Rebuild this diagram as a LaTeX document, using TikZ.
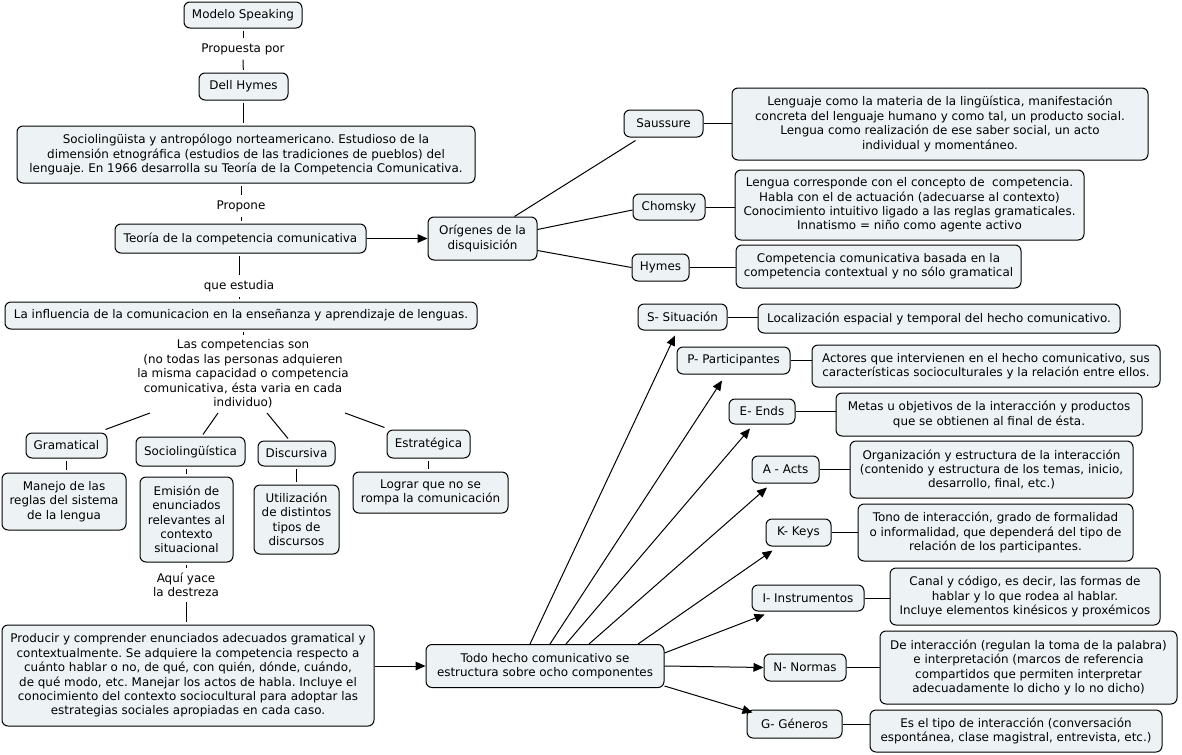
\documentclass[tikz,border=0pt]{standalone}
\usepackage{fontspec}
\setmainfont{DejaVu Sans}
\usetikzlibrary{arrows.meta,calc}
\definecolor{boxfill}{RGB}{237,243,245}
\frenchspacing
\begin{document}
\begin{tikzpicture}[x=0.75pt,y=-0.75pt,
  every node/.style={font=\fontsize{8.95}{10.8}\selectfont},
  box/.style={draw=black,line width=0.75pt,fill=boxfill,rounded corners=4.5pt,align=center,inner sep=0pt},
  wh/.style 2 args={minimum width=#1*0.75pt,minimum height=#2*0.75pt},
  lbl/.style={align=center,inner sep=1.5pt,fill=white},
  conn/.style={line width=0.75pt,draw=black},
  gap/.style={conn,shorten <=2pt,shorten >=2pt},
  arr/.style={conn,-{Triangle[length=7.5pt,width=6.5pt]}}]
\useasboundingbox[fill=white] (0,0) rectangle (1182,754);

% left column
\node[box,wh={118}{26}] (ms) at (243,15) {Modelo Speaking};
\node[lbl] (pp) at (243,49) {Propuesta por};
\node[box,wh={89}{27}] (dh) at (243.5,86.5) {Dell Hymes};
\node[box,wh={458}{57}] (soc) at (246,154.5) {Sociolingüista y antropólogo norteamericano. Estudioso de la\\dimensión etnográfica (estudios de las tradiciones de pueblos) del\\lenguaje. En 1966 desarrolla su Teoría de la Competencia Comunicativa.};
\node[lbl] (prop) at (241,206) {Propone};
\node[box,wh={251}{29}] (teo) at (240.5,238.5) {Teoría de la competencia comunicativa};
\node[box,wh={109}{43}] (ori) at (482.5,238.5) {Orígenes de la\\disquisición};
\node[lbl] (qe) at (239,286) {que estudia};
\node[box,wh={472}{27}] (inf) at (241,315.5) {La influencia de la comunicacion en la enseñanza y aprendizaje de lenguas.};
\node[lbl] (comp) at (243,374) {Las competencias son\\(no todas las personas adquieren\\la misma capacidad o competencia\\comunicativa, ésta varia en cada\\individuo)};

\node[box,wh={81}{25}] (gram) at (66.5,445.5) {Gramatical};
\node[box,wh={124}{57}] (man) at (64,501.5) {Manejo de las\\reglas del sistema\\de la lengua};
\node[box,wh={109}{29}] (sl) at (190.5,451.5) {Sociolingüística};
\node[box,wh={93}{85}] (emi) at (186.5,519.5) {Emisión de\\enunciados\\relevantes al\\contexto\\situacional};
\node[lbl] (aq) at (186,585) {Aquí yace\\la destreza};
\node[box,wh={77}{25}] (dis) at (296.5,453.5) {Discursiva};
\node[box,wh={85}{69}] (uti) at (296.5,519.5) {Utilización\\de distintos\\tipos de\\discursos};
\node[box,wh={83}{28}] (est) at (428.5,444) {Estratégica};
\node[box,wh={155}{41}] (log) at (430.5,492.5) {Lograr que no se\\rompa la comunicación};
\node[box,wh={372}{101}] (pro) at (188,675.5) {Producir y comprender enunciados adecuados gramatical y\\contextualmente. Se adquiere la competencia respecto a\\cuánto hablar o no, de qué, con quién, dónde, cuándo,\\de qué modo, etc. Manejar los actos de habla. Incluye el\\conocimiento del contexto sociocultural para adoptar las\\estrategias sociales apropiadas en cada caso.};
\node[box,wh={238}{43}] (todo) at (545,666) {Todo hecho comunicativo se\\estructura sobre ocho componentes};

% origins
\node[box,wh={79}{27}] (sau) at (663.5,123.5) {Saussure};
\node[box,wh={416}{72}] (saud) at (940,124) {Lenguaje como la materia de la lingüística, manifestación\\concreta del lenguaje humano y como tal, un producto social.\\Lengua como realización de ese saber social, un acto\\individual y momentáneo.};
\node[box,wh={72}{26}] (cho) at (669,207) {Chomsky};
\node[box,wh={349}{70}] (chod) at (909.5,205) {Lengua corresponde con el concepto de\ \ competencia.\\Habla con el de actuación (adecuarse al contexto)\\Conocimiento intuitivo ligado a las reglas gramaticales.\\Innatismo = niño como agente activo};
\node[box,wh={57}{27}] (hym) at (660.5,267.5) {Hymes};
\node[box,wh={285}{43}] (hymd) at (878.5,266.5) {Competencia comunicativa basada en la\\competencia contextual y no sólo gramatical};

% components
\node[box,wh={89}{26}] (S) at (682.5,317) {S- Situación};
\node[box,wh={362}{29}] (Sd) at (939,318.5) {Localización espacial y temporal del hecho comunicativo.};
\node[box,wh={113}{27}] (P) at (733.5,360.5) {P- Participantes};
\node[box,wh={348}{42}] (Pd) at (986,366) {Actores que intervienen en el hecho comunicativo, sus\\características socioculturales y la relación entre ellos.};
\node[box,wh={66}{25}] (E) at (762,411.5) {E- Ends};
\node[box,wh={306}{43}] (Ed) at (989,414.5) {Metas u objetivos de la interacción y productos\\que se obtienen al final de ésta.};
\node[box,wh={67}{27}] (A) at (785.5,469.5) {A - Acts};
\node[box,wh={283}{57}] (Ad) at (991.5,469.5) {Organización y estructura de la interacción\\(contenido y estructura de los temas, inicio,\\desarrollo, final, etc.)};
\node[box,wh={65}{27}] (K) at (798.5,532.5) {K- Keys};
\node[box,wh={275}{57}] (Kd) at (995.5,532.5) {Tono de interacción, grado de formalidad\\o informalidad, que dependerá del tipo de\\relación de los participantes.};
\node[box,wh={112}{26}] (I) at (808,598) {I- Instrumentos};
\node[box,wh={270}{57}] (Id) at (1025,596.5) {Canal y código, es decir, las formas de\\hablar y lo que rodea al hablar.\\Incluye elementos kinésicos y proxémicos};
\node[box,wh={82}{27}] (N) at (805,667.5) {N- Normas};
\node[box,wh={297}{73}] (Nd) at (1028.5,667.5) {De interacción (regulan la toma de la palabra)\\e interpretación (marcos de referencia\\compartidos que permiten interpretar\\adecuadamente lo dicho y lo no dicho)};
\node[box,wh={95}{28}] (G) at (794.5,724) {G- Géneros};
\node[box,wh={292}{42}] (Gd) at (1016,731) {Es el tipo de interacción (conversación\\espontánea, clase magistral, entrevista, etc.)};

% connectors left
\draw[gap] (ms) -- (pp);
\draw[gap] (pp) -- (dh);
\draw[gap] (dh) -- (dh.south |- soc.north);
\draw[gap] (soc.south -| prop) -- (prop);
\draw[gap] (prop) -- (prop |- teo.north);
\draw[arr] (teo.east) -- (ori.west);
\draw[gap] (teo.south -| qe) -- (qe);
\draw[gap] (qe) -- (qe |- inf.north);
\draw[gap] (inf.south -| comp) -- (comp);
\coordinate (c1) at (150,413);
\coordinate (c2) at (218,413);
\coordinate (c3) at (267,413);
\coordinate (c4) at (345,413);
\draw[conn] (c1) -- ($(gram.north east)+(-2,-3)$);
\draw[conn] (c2) -- ($(sl.north)+(12.5,-2)$);
\draw[conn] (c3) -- ($(dis.north)+(-8.5,-2)$);
\draw[conn] (c4) -- ($(est.north west)+(-2,-2)$);
\draw[gap] (gram.south) -- (gram.south |- man.north);
\draw[gap] (emi.north |- sl.south) -- (emi.north);
\draw[gap] (dis.south) -- (dis.south |- uti.north);
\draw[gap] (est.south) -- (est.south |- log.north);
\draw[gap] (emi.south -| aq) -- (aq);
\draw[gap] (aq) -- (aq |- pro.north);
\draw[arr] (pro.east |- todo.west) -- (todo.west);

% origins connectors
\draw[conn] ($(ori.north east)+(-23,0)$) -- ($(sau.south west)+(12,3)$);
\draw[conn] ($(ori.east)+(0,-9)$) -- ($(cho.west)+(0,3)$);
\draw[conn] ($(ori.east)+(0,12)$) -- (hym.west);
\draw[conn] (sau.east) -- (sau.east -| saud.west);
\draw[conn] (cho.east) -- (cho.east -| chod.west);
\draw[conn] (hym.east) -- (hym.east -| hymd.west);

% components connectors
\draw[arr] ($(todo.north)+(-15,0)$) -- ($(S.south)+(-7.5,5)$);
\draw[arr] ($(todo.north)+(5,0)$) -- ($(P.south)+(-11.5,6)$);
\draw[arr] ($(todo.north)+(21,0)$) -- ($(E.south)+(-12,4)$);
\draw[arr] ($(todo.north)+(44,0)$) -- ($(A.south)+(-18.5,4)$);
\draw[arr] ($(todo.north)+(93,0)$) -- ($(K.south west)+(7,4)$);
\draw[arr] ($(todo.east)+(0,-13)$) -- ($(I.south west)+(13,3)$);
\draw[arr] (todo.east) -- (N.west);
\draw[arr] ($(todo.east)+(0,20)$) -- ($(G.north west)+(6,3)$);
\draw[conn] (S.east) -- (S.east -| Sd.west);
\draw[conn] (P.east) -- (P.east -| Pd.west);
\draw[conn] (E.east) -- (E.east -| Ed.west);
\draw[conn] (A.east) -- (A.east -| Ad.west);
\draw[conn] (K.east) -- (K.east -| Kd.west);
\draw[conn] (I.east) -- (I.east -| Id.west);
\draw[conn] (N.east) -- (N.east -| Nd.west);
\draw[conn] (G.east) -- (G.east -| Gd.west);
\end{tikzpicture}
\end{document}
